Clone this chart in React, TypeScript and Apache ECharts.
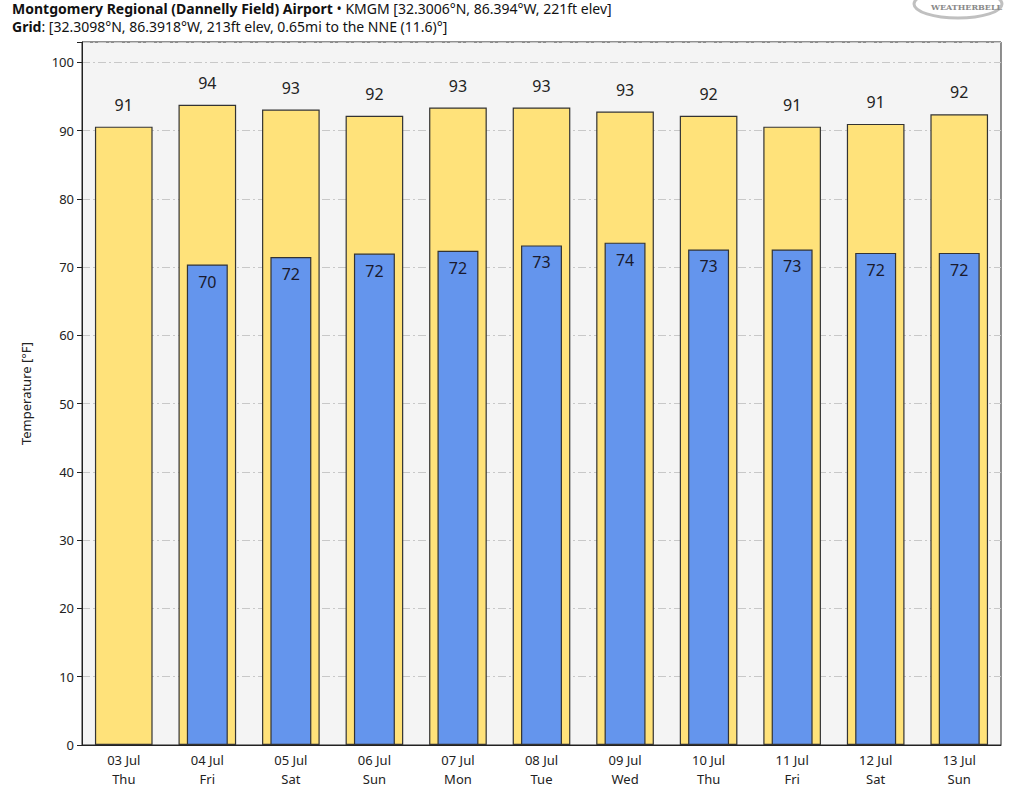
import React, { useEffect, useRef } from "react";
import * as echarts from "echarts";

const categories = [
  "03 Jul\nThu", "04 Jul\nFri", "05 Jul\nSat", "06 Jul\nSun", "07 Jul\nMon", "08 Jul\nTue",
  "09 Jul\nWed", "10 Jul\nThu", "11 Jul\nFri", "12 Jul\nSat", "13 Jul\nSun",
];
const highTemps = [90.6, 93.8, 93.1, 92.2, 93.4, 93.4, 92.8, 92.2, 90.6, 91.0, 92.4];
const lowTemps: (number | null)[] = [null, 70.4, 71.5, 72.0, 72.4, 73.2, 73.6, 72.6, 72.6, 72.1, 72.1];
const yTicks = [0, 10, 20, 30, 40, 50, 60, 70, 80, 90, 100];

const FONT = "Noto Sans";

export default function App() {
  const ref = useRef<HTMLDivElement>(null);
  useEffect(() => {
    if (!ref.current) return;
    const chart = echarts.init(ref.current, null, { renderer: "svg" });
    const xAxisBase = {
      type: "category" as const,
      data: categories,
      axisLine: { lineStyle: { color: "#222", width: 1 } },
      axisTick: { alignWithLabel: true, length: 5, lineStyle: { color: "#222" } },
      axisLabel: { color: "#222", fontSize: 13, lineHeight: 19, fontFamily: FONT, margin: 5 },
    };
    chart.setOption({
      animation: false,
      backgroundColor: "#ffffff",
      textStyle: { fontFamily: FONT },
      title: [
        {
          left: 12,
          top: 0,
          padding: 0,
          text: "{b|Montgomery Regional (Dannelly Field) Airport} • KMGM [32.3006°N, 86.394°W, 221ft elev]",
          textStyle: {
            fontSize: 14,
            fontWeight: "normal",
            color: "#111",
            lineHeight: 16,
            fontFamily: FONT,
            rich: {
              b: { fontWeight: "bold", fontSize: 14, color: "#111", fontFamily: FONT, lineHeight: 16 },
            },
          },
        },
        {
          left: 12,
          top: 18,
          padding: 0,
          text: "{b|Grid}: [32.3098°N, 86.3918°W, 213ft elev, 0.65mi to the NNE (11.6)°]",
          textStyle: {
            fontSize: 14,
            fontWeight: "normal",
            color: "#111",
            lineHeight: 16,
            fontFamily: FONT,
            rich: {
              b: { fontWeight: "bold", fontSize: 14, color: "#111", fontFamily: FONT, lineHeight: 16 },
            },
          },
        },
      ],
      graphic: [
        {
          type: "ellipse",
          shape: { cx: 958, cy: 4, rx: 44, ry: 14 },
          style: { fill: "none", stroke: "#c0c0c0", lineWidth: 3 },
          silent: true,
        },
        {
          type: "text",
          x: 931,
          y: 3,
          style: { text: "WEATHERBELL", fill: "#8a8a8a", font: "bold 8px DejaVu Serif" },
          silent: true,
        },
      ],
      grid: {
        left: 82,
        right: 23,
        top: 42,
        bottom: 43,
        show: true,
        backgroundColor: "#f4f4f4",
        borderColor: "#222",
        borderWidth: 1,
        containLabel: false,
      },
      xAxis: [
        xAxisBase,
        { ...xAxisBase, show: false },
      ],
      yAxis: {
        type: "value",
        min: 0,
        max: 103,
        interval: 10,
        name: "Temperature [°F]",
        nameLocation: "middle",
        nameGap: 50,
        nameTextStyle: { color: "#222", fontSize: 13, fontFamily: FONT },
        axisLine: { show: true, lineStyle: { color: "#222" } },
        axisTick: { show: true, length: 5, lineStyle: { color: "#222" } },
        axisLabel: {
          color: "#222",
          fontSize: 13,
          fontFamily: FONT,
          margin: 8,
          formatter: (v: number) => (yTicks.includes(v) ? String(v) : ""),
        },
        splitLine: {
          show: true,
          lineStyle: { color: "#c8c8c8", type: [8, 3, 2, 3], width: 1 },
        },
      },
      series: [
        {
          type: "bar",
          xAxisIndex: 0,
          data: highTemps,
          barWidth: "69%",
          itemStyle: { color: "#ffe27a", borderColor: "#333", borderWidth: 1.2 },
          label: {
            show: true,
            position: "top",
            distance: 14,
            fontSize: 16,
            color: "#222",
            fontFamily: FONT,
            formatter: (p: any) => String(Math.round(p.value)),
          },
          z: 2,
        },
        {
          type: "bar",
          xAxisIndex: 1,
          data: lowTemps,
          barWidth: "49%",
          itemStyle: { color: "#6495ed", borderColor: "#333", borderWidth: 1.2 },
          label: {
            show: true,
            position: "insideTop",
            distance: 9,
            fontSize: 16,
            color: "#1a1a2e",
            fontFamily: FONT,
            formatter: (p: any) => (p.value == null ? "" : String(Math.round(p.value))),
          },
          z: 3,
        },
      ],
    });
    return () => chart.dispose();
  }, []);
  return (
    <div
      ref={ref}
      style={{ position: "absolute", left: 0, top: 0, width: 1024, height: 788 }}
    />
  );
}
